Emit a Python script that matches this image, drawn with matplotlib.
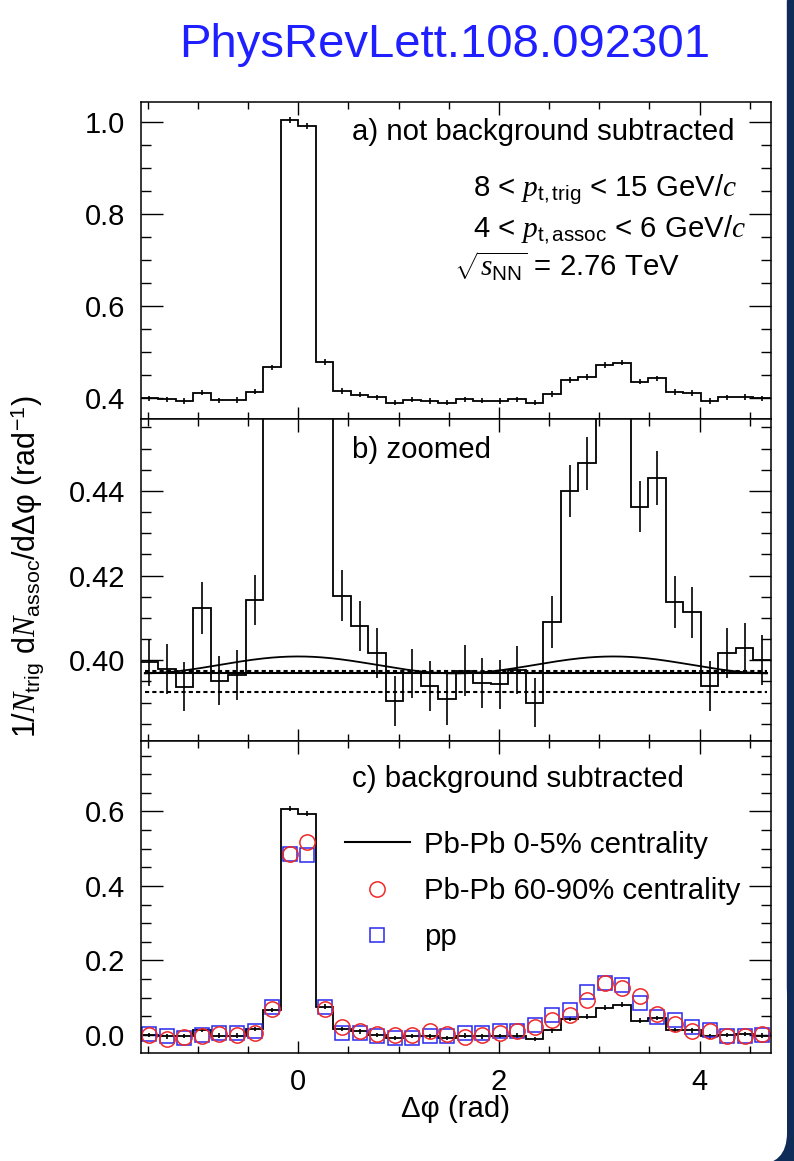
import numpy as np
import matplotlib.pyplot as plt
from matplotlib.lines import Line2D
from matplotlib.patches import Rectangle, FancyBboxPatch
from matplotlib.ticker import MultipleLocator, FormatStrFormatter

plt.rcParams['font.family'] = ['Liberation Sans', 'DejaVu Sans']
plt.rcParams['mathtext.fontset'] = 'custom'
plt.rcParams['mathtext.rm'] = 'Liberation Sans'
plt.rcParams['mathtext.it'] = 'Liberation Serif:italic'
plt.rcParams['mathtext.bf'] = 'Liberation Sans:bold'

# 36 bins in delta phi, -pi/2 .. 3pi/2
edges = np.linspace(-np.pi / 2, 3 * np.pi / 2, 37)
centers = 0.5 * (edges[:-1] + edges[1:])

# Pb-Pb 0-5%, not background subtracted (panels a and b)
raw = [0.3995, 0.3979, 0.3938, 0.4124, 0.3952, 0.3965, 0.4143, 0.4670,
       1.0030, 0.9910, 0.4790, 0.4153, 0.4081, 0.4017, 0.3904, 0.3969,
       0.3939, 0.3908, 0.3975, 0.3947, 0.3943, 0.3977, 0.3900, 0.4091,
       0.4400, 0.4465, 0.4725, 0.4775, 0.4363, 0.4431, 0.4137, 0.4113,
       0.3939, 0.4018, 0.4028, 0.4000]
raw_err = [0.0056, 0.0059, 0.0057, 0.0061, 0.0058, 0.0060, 0.0059, 0.0062,
           0.0065, 0.0065, 0.0062, 0.0061, 0.0059, 0.0059, 0.0060, 0.0058,
           0.0059, 0.0060, 0.0060, 0.0059, 0.0058, 0.0057, 0.0057, 0.0061,
           0.0061, 0.0062, 0.0063, 0.0063, 0.0061, 0.0063, 0.0061, 0.0061,
           0.0059, 0.0059, 0.0059, 0.0059]

# background levels in panel b
flat_bg = 0.3969
flat_bg_band = [0.3926, 0.3975]
v2_bg_max = 0.4009
fit_range = [-1.53, 4.67]

# background subtracted (panel c)
sub_central = [0.000, -0.004, -0.004, 0.013, -0.002, -0.002, 0.016, 0.067,
               0.607, 0.594, 0.076, 0.016, 0.009, 0.000, -0.009, -0.004,
               -0.004, -0.009, -0.002, -0.004, -0.004, -0.002, -0.011, 0.012,
               0.043, 0.049, 0.073, 0.081, 0.038, 0.045, 0.013, 0.012,
               -0.004, 0.000, 0.002, -0.002]
sub_peripheral = [0.000, -0.011, -0.007, -0.004, 0.002, 0.000, 0.006, 0.070,
                  0.485, 0.519, 0.070, 0.021, 0.011, 0.002, 0.000, 0.000,
                  0.009, 0.002, -0.007, 0.000, 0.006, 0.011, 0.022, 0.039,
                  0.054, 0.094, 0.139, 0.125, 0.103, 0.056, 0.029, 0.011,
                  0.009, -0.004, -0.003, 0.002]
sub_pp = [0.002, -0.002, -0.009, 0.000, 0.004, 0.004, 0.009, 0.076,
          0.485, 0.484, 0.076, 0.004, 0.006, -0.004, -0.009, -0.009,
          -0.004, -0.004, 0.006, 0.004, 0.009, 0.009, 0.027, 0.054,
          0.067, 0.116, 0.139, 0.133, 0.085, 0.049, 0.040, 0.022,
          0.013, -0.003, -0.004, 0.000]

RED = '#f02828'
BLUE = '#2828f0'

fig = plt.figure(figsize=(7.94, 11.61), dpi=100)
L, W = 140.7 / 794, 630.3 / 794
ax_a = fig.add_axes([L, 1 - 419 / 1161, W, 317 / 1161])
ax_b = fig.add_axes([L, 1 - 740.7 / 1161, W, 321.7 / 1161])
ax_c = fig.add_axes([L, 1 - 1052.7 / 1161, W, 312 / 1161])

TXT = 21.2
TICK = 21


def style(ax, ylim, major, minor, fmt):
    ax.set_xlim(-np.pi / 2, 3 * np.pi / 2)
    ax.set_ylim(ylim)
    ax.xaxis.set_major_locator(MultipleLocator(2))
    ax.xaxis.set_minor_locator(MultipleLocator(0.5))
    ax.yaxis.set_major_locator(MultipleLocator(major))
    ax.yaxis.set_minor_locator(MultipleLocator(minor))
    ax.yaxis.set_major_formatter(FormatStrFormatter(fmt))
    ax.tick_params(which='both', direction='in', top=True, right=True,
                   labelsize=TICK, pad=11, width=1)
    ax.tick_params(axis='y', which='major', length=15.5)
    ax.tick_params(axis='y', which='minor', length=7.5)
    ax.tick_params(axis='x', which='major', length=9)
    ax.tick_params(axis='x', which='minor', length=5)
    for sp in ax.spines.values():
        sp.set_linewidth(1.1)


# a) not background subtracted
ax_a.stairs(raw, edges, baseline=None, color='black', lw=1.3)
ax_a.errorbar(centers, raw, yerr=raw_err, fmt='none', ecolor='black', elinewidth=1.2)
style(ax_a, (0.355, 1.043), 0.2, 0.05, '%.1f')
ax_a.tick_params(labelbottom=False)
ax_a.text(0.336, 0.880, 'a) not background subtracted', transform=ax_a.transAxes,
          fontsize=TXT, va='baseline')
ax_a.text(0.528, 0.700, r'8 < $p_{\rm t,trig}$ < 15 GeV/$c$', transform=ax_a.transAxes,
          fontsize=TXT, va='baseline')
ax_a.text(0.528, 0.574, r'4 < $p_{\rm t,assoc}$ < 6 GeV/$c$', transform=ax_a.transAxes,
          fontsize=TXT, va='baseline')
ax_a.text(0.497, 0.448, r'$\sqrt{s_{\rm NN}}$ = 2.76 TeV', transform=ax_a.transAxes,
          fontsize=TXT, va='baseline')

# b) zoomed
ax_b.stairs(raw, edges, baseline=None, color='black', lw=1.3)
ax_b.errorbar(centers, raw, yerr=raw_err, fmt='none', ecolor='black', elinewidth=1.2)
xf = np.linspace(fit_range[0], fit_range[1], 300)
ax_b.plot(fit_range, [flat_bg, flat_bg], color='black', lw=1.5)
for lev in flat_bg_band:
    ax_b.plot(fit_range, [lev, lev], color='black', lw=1.5, dashes=(2, 1.5))
ax_b.plot(xf, flat_bg + (v2_bg_max - flat_bg) * 0.5 * (1 + np.cos(2 * xf)),
          color='black', lw=1.3)
style(ax_b, (0.381, 0.457), 0.02, 0.005, '%.2f')
ax_b.tick_params(labelbottom=False)
ax_b.text(0.336, 0.88, 'b) zoomed', transform=ax_b.transAxes, fontsize=TXT, va='baseline')

# c) background subtracted
ax_c.stairs(sub_central, edges, baseline=None, color='black', lw=1.3)
ax_c.errorbar(centers, sub_central, yerr=raw_err, fmt='none', ecolor='black', elinewidth=1.2)
ax_c.plot(centers, sub_pp, 's', mfc='none', mec=BLUE, mew=1.1, ms=10.5)
ax_c.plot(centers, sub_peripheral, 'o', mfc='none', mec=RED, mew=1.1, ms=11)
style(ax_c, (-0.048, 0.79), 0.2, 0.05, '%.1f')
ax_c.text(0.336, 0.852, 'c) background subtracted', transform=ax_c.transAxes,
          fontsize=TXT, va='baseline')
handles = [Line2D([], [], color='black', lw=1.5),
           Line2D([], [], ls='none', marker='o', mfc='none', mec=RED, mew=1.1, ms=11),
           Line2D([], [], ls='none', marker='s', mfc='none', mec=BLUE, mew=1.1, ms=10.5)]
ax_c.legend(handles, ['Pb-Pb 0-5% centrality', 'Pb-Pb 60-90% centrality', 'pp'],
            loc='upper left', bbox_to_anchor=(0.324, 0.712), frameon=False,
            fontsize=TXT, handlelength=2.2, handletextpad=0.5,
            labelspacing=0.62, borderpad=0, borderaxespad=0)
ax_c.set_xlabel('Δφ (rad)', fontsize=TXT, va='center')
ax_c.xaxis.set_label_coords(0.5, -0.18)

fig.text(27 / 794, 1 - 567 / 1161,
         r'1/$N_{\rm trig}$ d$N_{\rm assoc}$/dΔφ (rad$^{-1}$)',
         rotation=90, ha='center', va='center', fontsize=22)

fig.text(445 / 794, 1 - 45 / 1161, 'PhysRevLett.108.092301', color='#1f1fff',
         fontsize=34, ha='center', va='center')

# dark slide edge on the right, white slide with a rounded bottom corner
fig.patches.append(Rectangle((787 / 794, 0), 7 / 794, 1, transform=fig.transFigure,
                             color='#0e2c57', zorder=-3))
fig.patches.append(Rectangle((720 / 794, 0), 74 / 794, 80 / 1161, transform=fig.transFigure,
                             color='#0e2c57', zorder=-3))
fig.patches.append(FancyBboxPatch((600, -4), 187, 200, transform=None,
                                  boxstyle='round,pad=0,rounding_size=32',
                                  fc='white', ec='none', zorder=-2))

fig.savefig('out.png', dpi=100)
